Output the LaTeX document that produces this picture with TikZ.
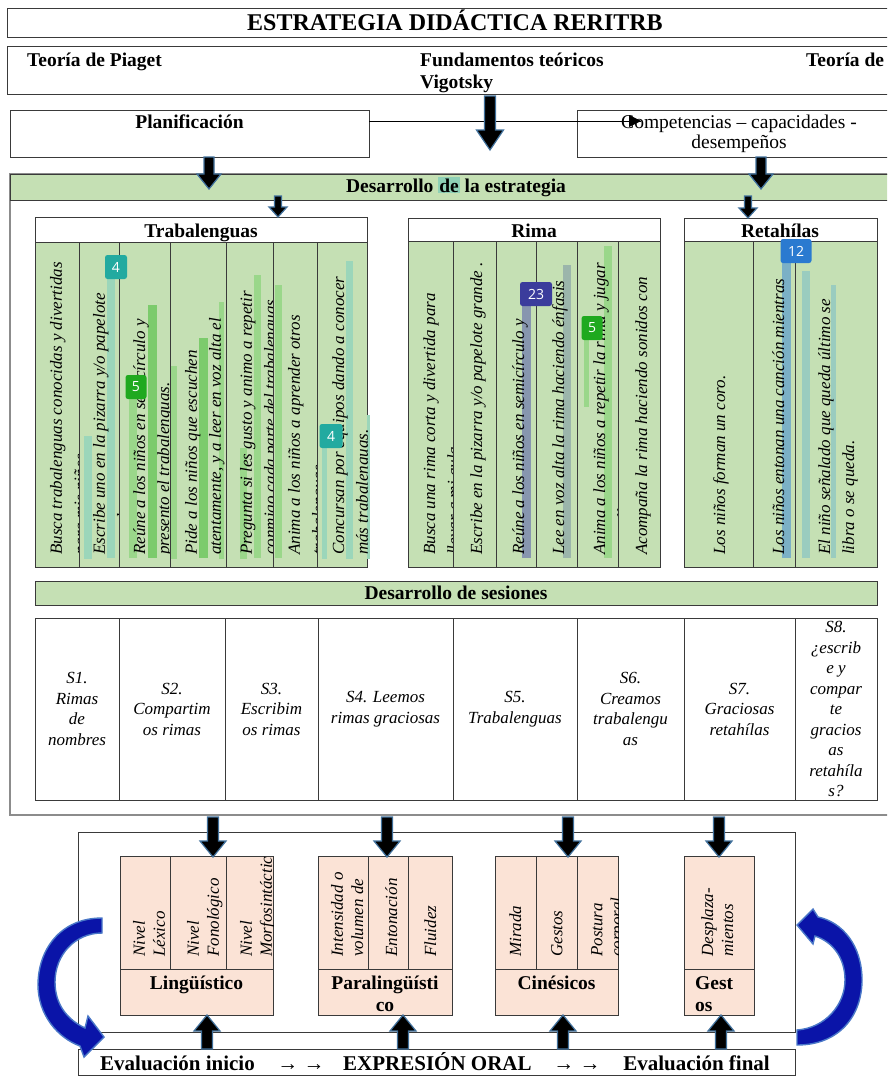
\documentclass[tikz,border=0pt]{standalone}
\usepackage{fontspec}
\setmainfont{Liberation Serif}
\newfontfamily\badgefont{Open Sans}
\usetikzlibrary{calc}
\definecolor{lgreen}{HTML}{C5E0B4}
\definecolor{peach}{HTML}{FBE3D6}
\definecolor{lnc}{HTML}{3A3A3A}
\definecolor{frm}{HTML}{8C8C8C}
\definecolor{arrb}{HTML}{41719C}
\definecolor{hlc}{HTML}{8ED0B6}
\definecolor{cteal}{HTML}{9BD6BA}
\definecolor{cgl}{HTML}{9AD78A}
\definecolor{cgs}{HTML}{7CCB6C}
\definecolor{cind}{HTML}{8796AF}
\definecolor{cgt}{HTML}{9BB5AB}
\definecolor{cbt}{HTML}{7BB0C6}
\definecolor{ctl}{HTML}{9ACCBF}
\definecolor{bteal}{HTML}{22AAA0}
\definecolor{bgreen}{HTML}{1FA91F}
\definecolor{bind}{HTML}{3B3C9C}
\definecolor{bblue}{HTML}{2A7AD0}
\definecolor{cblue}{HTML}{0A14A8}
\definecolor{cblue2}{HTML}{4A78C8}
\setlength{\fboxsep}{1pt}

\newcommand\bx[6][box]{\pgfmathsetmacro\bw{#5-#3}\pgfmathsetmacro\bh{#6-#4}%
  \node[#1, minimum width=\bw pt, minimum height=\bh pt] (#2) at (#3,#4) {};}
\newcommand\vcol[8][]{\begin{scope}\clip (#3,#4) rectangle (#5,#6);%
  \node[vt,#1] (#2) at (#3+#7,#6-12) {#8};\end{scope}}
\newcommand\barrow[5]{%
  \path[blockarr] let \p1=#4, \p2=#5, \n1={sign(\y2-\y1)} in
    ({\x1-#1*0.5pt},\y1) -- ({\x1-#1*0.5pt},{\y2-(\n1)*#3*1pt}) -- ({\x1-#2*0.5pt},{\y2-(\n1)*#3*1pt})
    -- (\x1,\y2) -- ({\x1+#2*0.5pt},{\y2-(\n1)*#3*1pt}) -- ({\x1+#1*0.5pt},{\y2-(\n1)*#3*1pt})
    -- ({\x1+#1*0.5pt},\y1) -- cycle;}
\newcommand\hbr[5]{\fill[#5] (#1,#2) rectangle (#3,#4);}

\begin{document}
\begin{tikzpicture}[x=1pt,y=-1pt,
  box/.style={draw=lnc, line width=0.9pt, fill=white, inner sep=0, outer sep=0, anchor=north west},
  gbox/.style={box, fill=lgreen},
  pbox/.style={box, fill=peach},
  frame/.style={box, draw=frm, line width=1.2pt, fill=none},
  hd/.style={font=\bfseries\fontsize{19.5}{22}\selectfont, inner sep=0},
  rg/.style={font=\fontsize{19.5}{22}\selectfont, inner sep=0},
  vt/.style={rotate=90, anchor=north west, align=left, inner sep=0, font=\itshape\fontsize{17}{24}\selectfont},
  vts/.style={font=\itshape\fontsize{17}{20}\selectfont},
  ses/.style={align=center, inner sep=0, font=\itshape\fontsize{17}{20.5}\selectfont},
  tagbox/.style={rounded corners=2.5pt, text=white, font=\badgefont\fontsize{14}{14}\selectfont, inner sep=0, minimum height=24pt},
  blockarr/.style={fill=black, draw=arrb, line width=1.2pt, line join=miter},
  curvarr/.style={fill=cblue, draw=cblue2, line width=1.4pt, line join=miter},
  divl/.style={draw=lnc, line width=0.9pt},
]
\useasboundingbox (0,0) rectangle (887,1076);
\clip (0,0) rectangle (887,1076);
\fill[white] (0,0) rectangle (887,1076);

% ---------- top part
\bx{title}{7}{8}{892}{37}
\node[font=\bfseries\fontsize{24}{26}\selectfont, anchor=base, inner sep=0] (titlet) at (455,30) {ESTRATEGIA DIDÁCTICA RERITRB};
\bx{fund}{7}{46}{892}{94}
\node[hd, anchor=base west] (piaget) at (27,66) {Teoría de Piaget};
\node[hd, anchor=base west] (fundt) at (420,66) {Fundamentos teóricos};
\node[hd, anchor=base west] (vig) at (420,88) {Vigotsky};
\node[hd, anchor=base west] (teor2) at (806,66) {Teoría de};
\bx{plan}{10}{110}{369}{157}
\node[hd, anchor=base] (plant) at (189.5,128) {Planificación};
\bx{comp}{577}{110}{892}{157}
\node[rg, anchor=base] (compt) at (739,128) {Competencias – capacidades -};
\node[rg, anchor=base] (compt2) at (739,148) {desempeños};
\coordinate (linea) at ($(plan.north east)+(0,11)$);
\coordinate (lineb) at ($(comp.north west)+(64,11)$);
\draw[line width=0.8pt] (linea) -- (lineb);
\fill (lineb) -- ++(-12,-6) -- ++(0,12) -- cycle;

% ---------- estrategia frame
\bx[frame]{frame}{10}{174}{892}{815}
\bx[gbox]{desa}{10}{174}{892}{200}
\node[hd, anchor=base] (desat) at (456,192) {Desarrollo \colorbox{hlc}{de} la estrategia};

\bx{trabh}{35}{217}{367}{242}
\node[hd, anchor=base] (trabt) at (201,237) {Trabalenguas};
\bx[gbox]{trabb}{35}{242}{367}{567}
\bx{rimah}{408}{218}{660}{241}
\node[hd, anchor=base] (rimat) at (534,237) {Rima};
\bx[gbox]{rimab}{408}{241}{660}{567}
\bx{retah}{684}{218}{877}{241}
\node[hd, anchor=base] (retat) at (780,237) {Retahílas};
\bx[gbox]{retab}{684}{241}{877}{567}

% overlay bars
\hbr{84}{436}{92}{559}{cteal}
\hbr{107}{278}{115}{558}{cteal}
\hbr{129}{397}{137}{558}{cgl}
\hbr{148}{305}{157}{558}{cgs}
\hbr{170}{366}{177}{559}{cgl}
\hbr{199}{338}{208}{558}{cgs}
\hbr{219}{302}{224}{559}{cgl}
\hbr{240}{448}{247}{559}{cgl}
\hbr{254}{275}{261}{558}{cgl}
\hbr{275}{285}{282}{558}{cgl}
\hbr{322}{443}{327}{559}{cteal}
\hbr{346}{261}{353}{559}{cteal}
\hbr{367}{415}{370}{559}{cteal}
\hbr{522}{298}{531}{558}{cind}
\hbr{563}{265}{571}{558}{cgt}
\hbr{584}{320}{589}{407}{cgl}
\hbr{604}{246}{612}{558}{cgl}
\hbr{782}{260}{791}{558}{cbt}
\hbr{802}{271}{810}{558}{ctl}
\hbr{831}{285}{836}{558}{ctl}

% Trabalenguas columns
\vcol{t1}{35}{242}{79}{567}{15}{Busca trabalenguas conocidas y divertidas\\para mis niños.}
\vcol{t2}{79}{242}{119}{567}{14}{Escribe uno en la pizarra y/o papelote\\grande.}
\vcol{t3}{119}{242}{170}{567}{14}{Reúne a los niños en semicírculo y\\presento el trabalenguas.}
\vcol{t4}{170}{242}{226}{567}{15}{Pide a los niños que escuchen\\atentamente, y a leer en voz alta el\\trabalenguas.}
\vcol{t5}{226}{242}{273}{567}{14}{Pregunta si les gusto y animo a repetir\\conmigo cada parte del trabalenguas.}
\vcol{t6}{273}{242}{317}{567}{15}{Anima a los niños a aprender otros\\trabalenguas.}
\vcol{t7}{317}{242}{367}{567}{15}{Concursan por equipos dando a conocer\\más trabalenguas.}
\foreach \xx in {79,119,170,226,273,317} \draw[divl] (\xx,242) -- (\xx,567);

% Rima columns
\vcol{r1}{408}{241}{453}{567}{15}{Busca una rima corta y divertida para\\llevar a mi aula.}
\vcol{r2}{453}{241}{496}{567}{17}{Escribe en la pizarra y/o papelote grande .}
\vcol{r3}{496}{241}{536}{567}{16}{Reúne a los niños en semicírculo y}
\vcol{r4}{536}{241}{577}{567}{16}{Lee en voz alta la rima haciendo énfasis}
\vcol{r5}{577}{241}{618}{567}{16}{Anima a los niños a repetir la rima y jugar\\con ella.}
\vcol{r6}{618}{241}{660}{567}{17}{Acompaña la rima haciendo sonidos con}
\foreach \xx in {453,496,536,577,618} \draw[divl] (\xx,241) -- (\xx,567);

% Retahilas columns
\vcol{h1}{684}{241}{753}{567}{29}{Los niños forman un coro.}
\vcol{h2}{753}{241}{795}{567}{19}{Los niños entonan una canción mientras}
\vcol{h3}{795}{241}{877}{567}{23}{El niño señalado que queda último se\\libra o se queda.}
\foreach \xx in {753,795} \draw[divl] (\xx,241) -- (\xx,567);

% badges
\node[tagbox, fill=bteal, minimum width=22pt] (bg1) at (116,267) {4};
\node[tagbox, fill=bgreen, minimum width=21pt] (bg2) at (136,387) {5};
\node[tagbox, fill=bteal, minimum width=23pt] (bg3) at (331,436) {4};
\node[tagbox, fill=bind, minimum width=32pt] (bg4) at (536,294) {23};
\node[tagbox, fill=bgreen, minimum width=21pt] (bg5) at (592,328) {5};
\node[tagbox, fill=bblue, minimum width=31pt] (bg6) at (796,251) {12};

% sesiones
\bx[gbox]{sesh}{35}{581}{877}{605}
\node[hd, anchor=base] (sesht) at (456,599) {Desarrollo de sesiones};
\bx{sest}{35}{618}{877}{800}
\foreach \xx in {119,225,318,453,577,684,795} \draw[divl] (\xx,618) -- (\xx,800);
\node[ses] (s1) at (77,709) {S1.\\Rimas\\de\\nombres};
\node[ses] (s2) at (172,709) {S2.\\Compartim\\os rimas};
\node[ses] (s3) at (271.5,709) {S3.\\Escribim\\os rimas};
\node[ses] (s4) at (385.5,709) {S4. Leemos\\rimas graciosas};
\node[ses] (s5) at (515,709) {S5.\\Trabalenguas};
\node[ses] (s6) at (630.5,709) {S6.\\Creamos\\trabalengu\\as};
\node[ses] (s7) at (739.5,709) {S7.\\Graciosas\\retahílas};
\node[ses] (s8) at (836,709) {S8.\\¿escrib\\e y\\compar\\te\\gracios\\as\\retahíla\\s?};

% ---------- bottom part
\bx[box, fill=none]{inner}{78}{832}{795}{1032}
\bx[pbox]{ling}{120}{856}{273}{1015}
\bx[pbox]{para}{318}{856}{452}{1015}
\bx[pbox]{cine}{495}{856}{618}{1015}
\bx[pbox]{gest}{684}{856}{754}{1015}
\vcol[vts]{l1}{120}{856}{170}{969}{13}{Nivel\\Léxico}
\vcol[vts]{l2}{170}{856}{226}{969}{17}{Nivel\\Fonológico}
\vcol[vts]{l3}{226}{856}{273}{969}{14}{Nivel\\Morfosintáctico}
\vcol[vts]{p1}{318}{856}{368}{969}{13}{Intensidad o\\volumen de\\voz}
\vcol[vts]{p2}{368}{856}{408}{969}{17}{Entonación}
\vcol[vts]{p3}{408}{856}{452}{969}{16}{Fluidez}
\vcol[vts]{c1}{495}{856}{536}{969}{14}{Mirada}
\vcol[vts]{c2}{536}{856}{577}{969}{15}{Gestos}
\vcol[vts]{c3}{577}{856}{618}{969}{14}{Postura\\corporal}
\vcol[vts]{g1}{684}{856}{754}{969}{17}{Desplaza-\\mientos}
\draw[divl] (120,969) -- (273,969) (170,856) -- (170,969) (226,856) -- (226,969);
\draw[divl] (318,969) -- (452,969) (368,856) -- (368,969) (408,856) -- (408,969);
\draw[divl] (495,969) -- (618,969) (536,856) -- (536,969) (577,856) -- (577,969);
\draw[divl] (684,969) -- (754,969);
\node[hd, anchor=base] (lingt) at (196.5,989) {Lingüístico};
\node[hd, anchor=base] (parat) at (385,989) {Paralingüísti};
\node[hd, anchor=base] (parat2) at (385,1011) {co};
\node[hd, anchor=base] (cinet) at (556.5,989) {Cinésicos};
\node[hd, anchor=base west] (gestt) at (695,989) {Gest};
\node[hd, anchor=base west] (gestt2) at (695,1011) {os};

\bx{evalb}{78}{1049}{795}{1075}
\node[font=\bfseries\fontsize{21}{24}\selectfont, anchor=base west, inner sep=0] (ev1) at (100,1070) {Evaluación inicio};
\node[font=\fontsize{21}{24}\selectfont, anchor=base, inner sep=0] (ev2) at (301,1070) {→ →};
\node[font=\bfseries\fontsize{21}{24}\selectfont, anchor=base west, inner sep=0] (ev3) at (343,1070) {EXPRESIÓN ORAL};
\node[font=\fontsize{21}{24}\selectfont, anchor=base, inner sep=0] (ev4) at (577,1070) {→ →};
\node[font=\bfseries\fontsize{21}{24}\selectfont, anchor=base east, inner sep=0] (ev5) at (770,1070) {Evaluación final};

% ---------- block arrows
\barrow{11}{27}{20}{(490,96)}{(490,150)}
\barrow{10}{24}{15}{(209,0 |- plan.south)}{(209,189)}
\barrow{10}{24}{15}{(761,0 |- comp.south)}{(761,189)}
\barrow{7}{18}{10}{(278,196)}{(278,0 |- trabh.north)}
\barrow{7}{18}{10}{(748,196)}{(748,0 |- retah.north)}
\barrow{11}{26}{16}{(213,817)}{(213,857)}
\barrow{11}{26}{16}{(387,817)}{(387,857)}
\barrow{11}{26}{16}{(568,817)}{(568,857)}
\barrow{11}{26}{16}{(719,817)}{(719,857)}
\barrow{11}{26}{16}{(207,0 |- evalb.north)}{(207,0 |- ling.south)}
\barrow{11}{26}{16}{(403,0 |- evalb.north)}{(403,0 |- para.south)}
\barrow{11}{26}{16}{(563,0 |- evalb.north)}{(563,0 |- cine.south)}
\barrow{11}{26}{16}{(721,0 |- evalb.north)}{(721,0 |- gest.south)}

% ---------- curved arrows
\path[curvarr] (102,918) .. controls (60,918) and (38,950) .. (38,985)
  .. controls (38,1015) and (58,1038) .. (80,1046) -- (84,1057) -- (104,1037) -- (88,1016) -- (85,1028)
  .. controls (68,1020) and (55,1005) .. (55,982) .. controls (55,955) and (75,933) .. (102,933) -- cycle;
\path[curvarr] (797,1045) .. controls (840,1045) and (862,1015) .. (862,980)
  .. controls (862,945) and (842,922) .. (818,917) -- (813,909) -- (797,925) -- (813,944) -- (815,936)
  .. controls (833,942) and (845,958) .. (845,980) .. controls (845,1005) and (825,1028) .. (797,1030) -- cycle;
\end{tikzpicture}
\end{document}
